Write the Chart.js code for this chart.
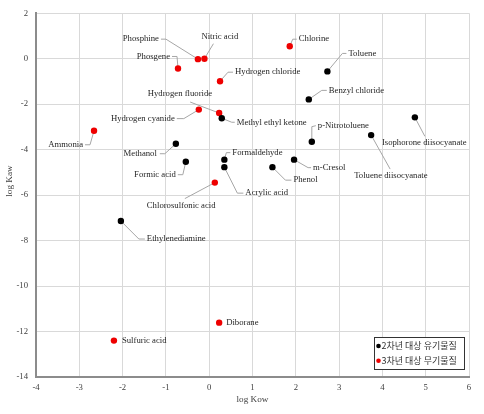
<!DOCTYPE html>
<html>
<head>
<meta charset="utf-8">
<script src="https://cdn.jsdelivr.net/npm/chart.js@4.4.1/dist/chart.umd.min.js"></script>
<style>
  html, body { margin: 0; padding: 0; background: #fff; }
  #wrap { width: 484px; height: 414px; }
</style>
</head>
<body>
<div id="wrap"><canvas id="chart" width="484" height="414"></canvas></div>
<script>
// 2차년 대상 유기물질 (organic)
const organicNames = ['Toluene', 'Benzyl chloride', 'Methyl ethyl ketone', 'Isophorone diisocyanate', 'p-Nitrotoluene',
    'Toluene diisocyanate', 'Methanol', 'Formaldehyde', 'm-Cresol', 'Formic acid', 'Acrylic acid', 'Phenol', 'Ethylenediamine'];
const organicKow = [2.73, 2.30, 0.29, 4.75, 2.37, 3.74, -0.77, 0.35, 1.96, -0.54, 0.35, 1.46, -2.04];
const organicKaw = [-0.56, -1.79, -2.62, -2.58, -3.65, -3.36, -3.74, -4.44, -4.44, -4.53, -4.77, -4.77, -7.14];

// 3차년 대상 무기물질 (inorganic)
const inorganicNames = ['Chlorine', 'Nitric acid', 'Phosphine', 'Phosgene', 'Hydrogen chloride', 'Hydrogen cyanide',
    'Hydrogen fluoride', 'Ammonia', 'Chlorosulfonic acid', 'Diborane', 'Sulfuric acid'];
const inorganicKow = [1.86, -0.11, -0.26, -0.72, 0.25, -0.24, 0.23, -2.66, 0.13, 0.23, -2.20];
const inorganicKaw = [0.55, 0.00, -0.02, -0.43, -0.99, -2.24, -2.39, -3.17, -5.45, -11.61, -12.40];

const xTickValues = [-4, -3, -2, -1, 0, 1, 2, 3, 4, 5, 6];
const yTickValues = [-14, -12, -10, -8, -6, -4, -2, 0, 2];
const seriesLabels = ['2차년 대상 유기물질', '3차년 대상 무기물질'];
const xTitle = 'log Kow';
const yTitle = 'log Kaw';

// label placement, pixel offsets from each point (text anchor + leader path)
const labelLayout = {
    'Toluene': { tx: 21, ty: -18, align: 'left', leader: [[0, 0], [15, -18], [19, -18]] },
    'Benzyl chloride': { tx: 20, ty: -9, align: 'left', leader: [[0, 0], [13, -9], [18, -9]] },
    'Methyl ethyl ketone': { tx: 15, ty: 4, align: 'left', leader: [[0, 0], [10, 4], [13, 4]] },
    'Isophorone diisocyanate': { tx: -33, ty: 25, align: 'left', leader: [[0, 0], [10, 19]] },
    'p-Nitrotoluene': { tx: 6, ty: -16, align: 'left', leader: [[0, 0], [0, -15], [4, -16]] },
    'Toluene diisocyanate': { tx: -17, ty: 41, align: 'left', leader: [[0, 0], [19, 34]] },
    'Methanol': { tx: -19, ty: 10, align: 'right', leader: [[-16, 10], [-11, 10], [0, 0]] },
    'Formaldehyde': { tx: 8, ty: -7, align: 'left', leader: [[0, 0], [2, -7], [6, -7]] },
    'm-Cresol': { tx: 19, ty: 8, align: 'left', leader: [[0, 0], [14, 8], [17, 8]] },
    'Formic acid': { tx: -10, ty: 13, align: 'right', leader: [[-8, 13], [-3, 13], [0, 0]] },
    'Acrylic acid': { tx: 21, ty: 26, align: 'left', leader: [[0, 0], [13, 26], [19, 26]] },
    'Phenol': { tx: 21, ty: 13, align: 'left', leader: [[0, 0], [13, 13], [19, 13]] },
    'Ethylenediamine': { tx: 26, ty: 18, align: 'left', leader: [[0, 0], [18, 18], [24, 18]] },
    'Chlorine': { tx: 9, ty: -7, align: 'left', leader: [[0, 0], [3, -7], [7, -7]] },
    'Nitric acid': { tx: -3, ty: -22, align: 'left', leader: [[0, 0], [9, -15]] },
    'Phosphine': { tx: -39, ty: -20, align: 'right', leader: [[-37, -20], [-32, -20], [0, 0]] },
    'Phosgene': { tx: -8, ty: -12, align: 'right', leader: [[-6, -12], [-1, -12], [0, 0]] },
    'Hydrogen chloride': { tx: 15, ty: -9, align: 'left', leader: [[0, 0], [8, -9], [13, -9]] },
    'Hydrogen cyanide': { tx: -24, ty: 9, align: 'right', leader: [[-22, 9], [-15, 9], [0, 0]] },
    'Hydrogen fluoride': { tx: -7, ty: -19, align: 'right', leader: [[-29, -11], [0, 0]] },
    'Ammonia': { tx: -11, ty: 14, align: 'right', leader: [[-9, 14], [-4, 14], [0, 0]] },
    'Chlorosulfonic acid': { tx: -68, ty: 23, align: 'left', leader: [[-30, 16], [0, 0]] },
    'Diborane': { tx: 7, ty: 0, align: 'left', leader: null },
    'Sulfuric acid': { tx: 8, ty: 0, align: 'left', leader: null }
};

const serifFont = '"Liberation Serif", "Times New Roman", serif';
const koreanFont = '"Noto Sans CJK KR", "Noto Sans", sans-serif';

function toPoints(xs, ys) {
    return xs.map((x, i) => ({ x: x, y: ys[i] }));
}

const pointLabels = {
    id: 'pointLabels',
    beforeDatasetsDraw(chart) {
        const ctx = chart.ctx;
        ctx.save();
        ctx.font = '8.7px ' + serifFont;
        ctx.textBaseline = 'middle';
        chart.data.datasets.forEach((ds, di) => {
            const meta = chart.getDatasetMeta(di);
            meta.data.forEach((pt, i) => {
                const lay = labelLayout[ds.names[i]];
                if (!lay) return;
                if (lay.leader) {
                    ctx.strokeStyle = '#a6a6a6';
                    ctx.lineWidth = 1;
                    ctx.beginPath();
                    lay.leader.forEach((p, k) => {
                        if (k === 0) ctx.moveTo(pt.x + p[0], pt.y + p[1]);
                        else ctx.lineTo(pt.x + p[0], pt.y + p[1]);
                    });
                    ctx.stroke();
                }
                ctx.fillStyle = '#262626';
                ctx.textAlign = lay.align;
                ctx.fillText(ds.names[i], pt.x + lay.tx, pt.y + lay.ty);
            });
        });
        ctx.restore();
    },
    afterDraw(chart) {
        const ctx = chart.ctx;
        const area = chart.chartArea;
        ctx.save();
        // axis titles
        ctx.fillStyle = '#404040';
        ctx.font = '9.2px ' + serifFont;
        ctx.textAlign = 'center';
        ctx.textBaseline = 'middle';
        ctx.fillText(xTitle, (area.left + area.right) / 2, 400);
        ctx.translate(10, 181);
        ctx.rotate(-Math.PI / 2);
        ctx.fillText(yTitle, 0, 0);
        ctx.setTransform(1, 0, 0, 1, 0, 0);

        // legend box
        const lx = 374.5, ly = 337.5, lw = 90, lh = 32;
        ctx.fillStyle = '#fff';
        ctx.fillRect(lx, ly, lw, lh);
        ctx.strokeStyle = '#333';
        ctx.lineWidth = 1;
        ctx.strokeRect(lx, ly, lw, lh);
        ctx.font = '9px ' + koreanFont;
        ctx.textAlign = 'left';
        chart.data.datasets.forEach((ds, di) => {
            const y = 346 + di * 14.7;
            ctx.fillStyle = ds.backgroundColor;
            ctx.beginPath();
            ctx.arc(378.5, y, 2.3, 0, Math.PI * 2);
            ctx.fill();
            ctx.fillStyle = '#333';
            ctx.fillText(seriesLabels[di], 381.5, y);
        });
        ctx.restore();
    }
};

new Chart(document.getElementById('chart'), {
    type: 'scatter',
    data: {
        datasets: [
            {
                label: seriesLabels[0],
                names: organicNames,
                data: toPoints(organicKow, organicKaw),
                backgroundColor: '#000000',
                borderWidth: 0,
                pointRadius: 3.2
            },
            {
                label: seriesLabels[1],
                names: inorganicNames,
                data: toPoints(inorganicKow, inorganicKaw),
                backgroundColor: '#ee0000',
                borderWidth: 0,
                pointRadius: 3.2
            }
        ]
    },
    options: {
        responsive: false,
        animation: false,
        devicePixelRatio: 1,
        layout: { padding: { top: 12, right: 15, left: 0, bottom: 0 } },
        plugins: {
            legend: { display: false },
            tooltip: { enabled: false }
        },
        scales: {
            x: {
                type: 'linear',
                min: -4,
                max: 6,
                afterBuildTicks: s => { s.ticks = xTickValues.map(v => ({ value: v })); },
                afterFit: s => { s.height = 37; },
                grid: { color: '#d9d9d9', lineWidth: 1, drawTicks: false },
                border: { color: '#8c8c8c', width: 2 },
                ticks: { padding: 5, color: '#404040', font: { family: serifFont, size: 8.7 }, maxRotation: 0 }
            },
            y: {
                type: 'linear',
                min: -14,
                max: 2,
                afterBuildTicks: s => { s.ticks = yTickValues.map(v => ({ value: v })); },
                afterFit: s => { s.width = 36; },
                grid: { color: '#d9d9d9', lineWidth: 1, drawTicks: false },
                border: { color: '#8c8c8c', width: 2 },
                ticks: { padding: 8, color: '#404040', font: { family: serifFont, size: 8.7 } }
            }
        }
    },
    plugins: [pointLabels]
});
</script>
</body>
</html>
